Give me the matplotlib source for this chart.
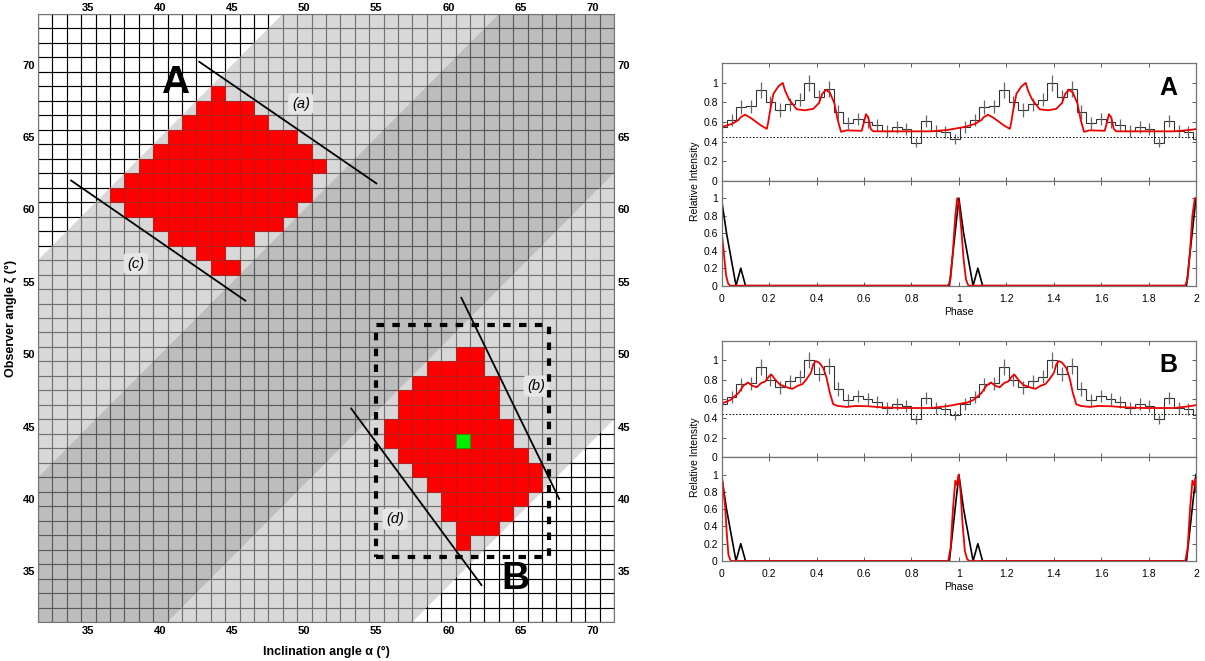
import numpy as np
import matplotlib
matplotlib.use("Agg")
import matplotlib.pyplot as plt
from matplotlib.patches import Rectangle

plt.rcParams['font.family'] = ['Liberation Sans', 'DejaVu Sans']

# ---- left panel data: (zeta, alpha_min, alpha_max) rows of red cells
cells_A = [(68, 44, 44), (67, 43, 46), (66, 42, 47), (65, 41, 49), (64, 40, 50),
           (63, 39, 51), (62, 38, 50), (61, 37, 50), (60, 38, 49), (59, 40, 48),
           (58, 41, 46), (57, 43, 44), (56, 44, 45)]
cells_B = [(50, 61, 62), (49, 59, 62), (48, 58, 63), (47, 57, 63), (46, 57, 63),
           (45, 56, 64), (44, 56, 64), (43, 57, 65), (42, 58, 66), (41, 59, 66),
           (40, 60, 65), (39, 60, 64), (38, 61, 63), (37, 61, 61)]
best_cell = (61, 44)
# zeta - alpha limits of the grey bands
light_bands = [(10, 25), (-26, -9)]
dark_band = (-9, 10)
lines_ad = {'a': [(42.7, 70.2), (55.0, 61.8)], 'b': [(60.9, 53.9), (67.7, 40.0)],
            'c': [(33.8, 62.0), (45.9, 53.7)], 'd': [(53.25, 46.25), (62.3, 34.05)]}
label_pos = {'a': (49.75, 67.3), 'b': (66.1, 47.8), 'c': (38.3, 56.25), 'd': (56.3, 38.6)}
box_B = (55, 36, 67, 52)
grid_ticks = list(range(35, 71, 5))

# ---- right panel data
bin_w = 0.041
obs = [0.55, 0.62, 0.75, 0.76, 0.93, 0.80, 0.72, 0.78, 0.83, 1.00, 0.86, 0.94, 0.70,
       0.59, 0.63, 0.60, 0.57, 0.51, 0.55, 0.53, 0.39, 0.61, 0.51, 0.50, 0.43]
obs_err = [0.06, 0.06, 0.07, 0.07, 0.08, 0.07, 0.07, 0.07, 0.07, 0.08, 0.07, 0.08, 0.07,
           0.06, 0.06, 0.06, 0.06, 0.06, 0.06, 0.06, 0.05, 0.06, 0.06, 0.06, 0.05]
background = 0.45

gam_ph_A = [0, 0.042, 0.07, 0.08, 0.098, 0.12, 0.14, 0.165, 0.19, 0.196, 0.204, 0.218, 0.239,
            0.257, 0.267, 0.284, 0.316, 0.351, 0.386, 0.41, 0.424, 0.44, 0.456, 0.475,
            0.489, 0.503, 0.527, 0.59, 0.60, 0.608, 0.618, 0.628, 0.639, 0.744, 0.885,
            0.955, 1.025]
gam_A = [0.55, 0.58, 0.62, 0.65, 0.675, 0.645, 0.61, 0.565, 0.53, 0.60, 0.72, 0.89, 0.965,
         1.0, 0.92, 0.83, 0.73, 0.72, 0.735, 0.795, 0.89, 0.93, 0.90, 0.79,
         0.62, 0.50, 0.515, 0.51, 0.60, 0.68, 0.645, 0.53, 0.505, 0.505, 0.505,
         0.52, 0.55]
gam_ph_B = [0, 0.035, 0.07, 0.091, 0.11, 0.129, 0.147, 0.166, 0.183, 0.2, 0.21, 0.225,
            0.246, 0.274, 0.298, 0.32, 0.34, 0.358, 0.376, 0.386, 0.396, 0.41, 0.428,
            0.442, 0.456, 0.47, 0.49, 0.527, 0.562, 0.618, 0.674, 0.758, 0.885, 0.955, 1.025]
gam_B = [0.553, 0.588, 0.66, 0.736, 0.77, 0.736, 0.72, 0.764, 0.78, 0.835, 0.85, 0.80,
         0.746, 0.72, 0.704, 0.736, 0.753, 0.806, 0.87, 0.958, 0.99, 0.975, 0.92,
         0.817, 0.66, 0.546, 0.528, 0.518, 0.528, 0.525, 0.514, 0.507, 0.507, 0.528, 0.56]
gam_period = 1.025

radio_ph = [0, 0.02, 0.06, 0.08, 0.10, 0.96, 1.00, 1.02, 1.06, 1.08, 1.10, 1.96, 2.00]
radio_obs = [0.97, 0.60, 0.0, 0.20, 0.0, 0.0, 1.0, 0.60, 0.0, 0.20, 0.0, 0.0, 1.0]
rmod_ph_A = [0, 0.006, 0.012, 0.018, 0.026, 0.035, 0.955, 0.965, 0.975, 0.985, 0.993,
             1.0, 1.01, 1.02, 1.03, 1.04, 1.955, 1.965, 1.975, 1.985, 1.995, 2.0]
rmod_A = [0.6, 0.45, 0.28, 0.12, 0.03, 0.0, 0.0, 0.08, 0.4, 0.8, 1.0,
          0.95, 0.65, 0.3, 0.07, 0.0, 0.0, 0.08, 0.4, 0.8, 1.0, 1.0]
rmod_ph_B = [0, 0.014, 0.021, 0.028, 0.038, 0.955, 0.965, 0.975, 0.985, 0.991, 0.999,
             1.007, 1.015, 1.025, 1.035, 1.045, 1.955, 1.965, 1.975, 1.985, 1.991, 1.997, 2.0]
rmod_B = [1.0, 0.63, 0.32, 0.07, 0.0, 0.0, 0.15, 0.6, 0.93, 0.88, 1.0,
          0.8, 0.45, 0.12, 0.02, 0.0, 0.0, 0.15, 0.6, 0.93, 0.88, 0.95, 0.8]

fig = plt.figure(figsize=(12.05, 6.61), dpi=100)

# ================= left: alpha-zeta grid =================
ax = fig.add_axes([0.0315, 0.059, 0.478, 0.9198])
ax.set_xlim(31.5, 71.5)
ax.set_ylim(31.5, 73.5)
ax.set_xticks(np.arange(31.5, 72, 1), minor=True)
ax.set_yticks(np.arange(31.5, 74, 1), minor=True)
ax.grid(which='minor', color='k', lw=0.85)
ax.set_xticks(grid_ticks, [str(v) for v in grid_ticks], fontweight='bold')
ax.set_yticks(grid_ticks, [str(v) for v in grid_ticks], fontweight='bold')
ax.tick_params(which='both', length=0, labelsize=8)
ax.tick_params(axis='x', pad=3)
ax.tick_params(axis='y', pad=2)
for s in ax.spines.values():
    s.set_color('0.45')

# top / right copies of the tick labels
top = ax.secondary_xaxis('top')
top.set_xticks(grid_ticks, [str(v) for v in grid_ticks], fontweight='bold')
top.tick_params(which='both', length=0, labelsize=8, pad=1)
right = ax.secondary_yaxis('right')
right.set_yticks(grid_ticks, [str(v) for v in grid_ticks], fontweight='bold')
right.tick_params(which='both', length=0, labelsize=8, pad=2.5)
for sec in (top, right):
    for s in sec.spines.values():
        s.set_visible(False)

xs = np.array([31.5, 71.5])
for lo, hi in light_bands:
    ax.fill_between(xs, xs + lo, xs + hi, color='0.75', alpha=0.6, lw=0, zorder=2)
ax.fill_between(xs, xs + dark_band[0], xs + dark_band[1], color='0.58', alpha=0.61,
                lw=0, zorder=2)

for rows in (cells_A, cells_B):
    for z, a0, a1 in rows:
        al = np.arange(a0, a1 + 1)
        ax.bar(al, 1.0, width=1.0, bottom=z - 0.5, color='#ff0000',
               edgecolor='#a82020', linewidth=0.6, zorder=3)
ax.bar([best_cell[0]], 1.0, width=1.0, bottom=best_cell[1] - 0.5, color='#00ee00',
       edgecolor='#009900', linewidth=0.4, zorder=4)

for k, pts in lines_ad.items():
    (x0, y0), (x1, y1) = pts
    ax.plot([x0, x1], [y0, y1], color='k', lw=1.3, zorder=5)
    lx, ly = label_pos[k]
    ax.text(lx, ly, '(%s)' % k, style='italic', fontsize=10.5, ha='center', va='center',
            zorder=6, bbox=dict(boxstyle='round,pad=0.25', fc='#e6e6e6', ec='none'))

ax.add_patch(Rectangle((box_B[0], box_B[1]), box_B[2] - box_B[0], box_B[3] - box_B[1],
                       fill=False, ec='k', lw=3, ls=(0, (1.8, 2.0)), zorder=6))

ax.text(41.0, 68.7, 'A', fontsize=28, fontweight='bold', ha='center', va='center', zorder=7)
ax.text(64.65, 34.5, 'B', fontsize=28, fontweight='bold', ha='center', va='center', zorder=7)

ax.set_xlabel('Inclination angle α (°)', fontsize=9, fontweight='bold', labelpad=7)
ax.set_ylabel('Observer angle ζ (°)', fontsize=9, fontweight='bold', labelpad=4)

# ================= right: pulse profiles =================
edges = np.arange(51) * bin_w - bin_w / 2
centers = np.arange(50) * bin_w
obs2 = np.tile(obs, 2)
err2 = np.tile(obs_err, 2)
xt = np.round(np.arange(0, 2.01, 0.2), 1)
xt_lab = ['%g' % v for v in xt]
yt = np.round(np.arange(0, 1.01, 0.2), 1)
yt_lab = ['%g' % v for v in yt]


def style(a):
    a.set_xlim(0, 2)
    a.set_ylim(0, 1.2)
    a.set_xticks(xt, xt_lab)
    a.set_yticks(yt, yt_lab)
    a.tick_params(direction='in', length=3, top=True, right=True, labelsize=7.5,
                  color='0.35', width=0.7)
    a.tick_params(axis='y', pad=3)
    a.tick_params(axis='x', pad=6)
    for s in a.spines.values():
        s.set_color('0.45')
        s.set_linewidth(0.9)


def panel(ybot_up, h_up, ybot_lo, h_lo, gph, gval, rph, rval, tag):
    x0, w = 0.599, 0.3935
    up = fig.add_axes([x0, ybot_up, w, h_up])
    lo = fig.add_axes([x0, ybot_lo, w, h_lo])
    style(up)
    style(lo)
    up.tick_params(labelbottom=False)

    up.stairs(obs2, edges, baseline=None, color='0.2', lw=0.8)
    up.errorbar(centers, obs2, yerr=err2, fmt='none', ecolor='0.4', elinewidth=0.9,
                capsize=0)
    up.axhline(background, color='k', lw=0.7, ls=(0, (1.5, 2)))
    gph = np.asarray(gph)
    up.plot(np.concatenate([gph, gph + gam_period]), np.tile(gval, 2),
            color='#ee0000', lw=1.3)
    up.text(0.942, 0.79, tag, transform=up.transAxes, fontsize=18, fontweight='bold',
            ha='center', va='center')

    lo.plot(radio_ph, radio_obs, color='k', lw=1.2)
    lo.plot(rph, rval, color='#ee0000', lw=1.3)
    lo.set_xlabel('Phase', fontsize=7.5, labelpad=2)
    fig.text(0.5768, ybot_up, 'Relative Intensity', rotation=90, fontsize=7.5,
             ha='center', va='center')


panel(0.7266, 0.1776, 0.5678, 0.1588, gam_ph_A, gam_A, rmod_ph_A, rmod_A, 'A')
panel(0.3082, 0.1764, 0.1513, 0.1569, gam_ph_B, gam_B, rmod_ph_B, rmod_B, 'B')

fig.savefig('out.png', dpi=100)
